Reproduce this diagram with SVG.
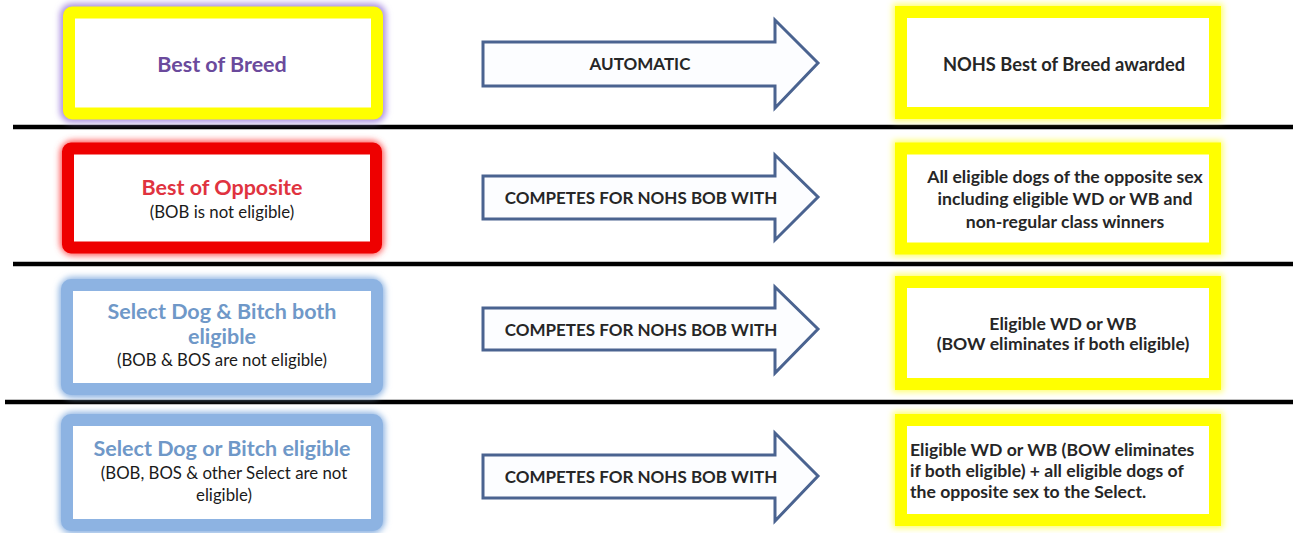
<svg xmlns="http://www.w3.org/2000/svg" width="1295" height="533" viewBox="0 0 1295 533">
<defs>
<filter id="glow" x="-10%" y="-15%" width="120%" height="130%"><feGaussianBlur stdDeviation="3"/></filter>
<style>
text{font-family:Lato,"Open Sans","Liberation Sans",sans-serif;font-weight:700;text-anchor:middle}
.sep{stroke:#000;stroke-width:4.5}
.arrow{fill:#fcfdff;stroke:#4a6390;stroke-width:3;stroke-linejoin:miter}
.box{fill:#fff;stroke-width:12}
.yel{stroke:#ffff00}
.glowy{fill:none;stroke:#ffff66;stroke-width:16}
.big{font-size:21.5px}
.small{font-size:16.8px;fill:#1a1a1a;font-weight:400}
.rs{font-size:17.6px;fill:#262626}
.mid{font-size:18.3px;fill:#262626}
.arrtxt{font-size:17px;fill:#262626}
.start{text-anchor:start}
</style>
</defs>
<rect width="1295" height="533" fill="#fff"/>
<g id="separators">
<line class="sep" x1="13" y1="127" x2="1293" y2="127"/>
<line class="sep" x1="13" y1="264" x2="1293" y2="264"/>
<line class="sep" x1="5" y1="402" x2="1293" y2="402"/>
</g>
<g id="connectors">
<polygon class="arrow" points="483,42 775,42 775,20 818,63 775,108 775,86 483,86"/>
<polygon class="arrow" points="483,176 775,176 775,155 818,197 775,240 775,219 483,219"/>
<polygon class="arrow" points="483,308 775,308 775,287 818,329 775,373 775,350 483,350"/>
<polygon class="arrow" points="483,455 775,455 775,433 818,476 775,521 775,498 483,498"/>
<text class="arrtxt" x="640" y="70">AUTOMATIC</text>
<text class="arrtxt" x="641" y="204">COMPETES FOR NOHS BOB WITH</text>
<text class="arrtxt" x="641" y="336">COMPETES FOR NOHS BOB WITH</text>
<text class="arrtxt" x="641" y="483">COMPETES FOR NOHS BOB WITH</text>
</g>
<g id="best-of-breed">
<rect x="67" y="10.5" width="312" height="105" rx="5" fill="none" stroke="#a98ee0" stroke-width="14" filter="url(#glow)"/>
<rect class="box yel" x="69" y="12.5" width="308" height="101" rx="3"/>
<text class="big" x="222" y="72" fill="#6b4a9c">Best of Breed</text>
</g>
<g id="best-of-opposite">
<rect x="68" y="148.5" width="308" height="99" rx="5" fill="none" stroke="#ff5555" stroke-width="16" filter="url(#glow)"/>
<rect class="box" x="68" y="148.5" width="308" height="99" rx="3" stroke="#ee0000"/>
<text class="big" x="222" y="195" fill="#e0333f">Best of Opposite</text>
<text class="small" x="222" y="218">(BOB is not eligible)</text>
</g>
<g id="select-both">
<rect x="67" y="285" width="310" height="105" rx="6" fill="none" stroke="#8db3e2" stroke-width="16" filter="url(#glow)"/>
<rect class="box" x="67" y="285" width="310" height="104" rx="4" stroke="#8db3e2"/>
<text class="big" x="222" y="319" fill="#6f98c8">Select Dog &amp; Bitch both</text>
<text class="big" x="222" y="344" fill="#6f98c8">eligible</text>
<text class="small" x="222" y="366">(BOB &amp; BOS are not eligible)</text>
</g>
<g id="select-one">
<rect x="67" y="420" width="310" height="106" rx="6" fill="none" stroke="#8db3e2" stroke-width="16" filter="url(#glow)"/>
<rect class="box" x="67" y="420" width="310" height="105" rx="4" stroke="#8db3e2"/>
<text class="big" x="222" y="456" fill="#6f98c8">Select Dog or Bitch eligible</text>
<text class="small" x="224" y="479">(BOB, BOS &amp; other Select are not</text>
<text class="small" x="224" y="501">eligible)</text>
</g>
<g id="nohs-bob-awarded">
<rect class="glowy" x="901" y="12" width="314" height="101" filter="url(#glow)"/>
<rect class="box yel" x="901" y="12" width="314" height="101" stroke-width="13"/>
<text class="mid" x="1064" y="71">NOHS Best of Breed awarded</text>
</g>
<g id="opposite-sex-dogs">
<rect class="glowy" x="901" y="148.5" width="314" height="100" filter="url(#glow)"/>
<rect class="box yel" x="901" y="148.5" width="314" height="100" stroke-width="13"/>
<text class="rs" x="1065" y="183">All eligible dogs of the opposite sex</text>
<text class="rs" x="1065" y="205">including eligible WD or WB and</text>
<text class="rs" x="1065" y="228">non-regular class winners</text>
</g>
<g id="eligible-wd-wb">
<rect class="glowy" x="901" y="282" width="314" height="102" filter="url(#glow)"/>
<rect class="box yel" x="901" y="282" width="314" height="102" stroke-width="13"/>
<text class="rs" x="1063" y="330">Eligible WD or WB</text>
<text class="rs" x="1063" y="350">(BOW eliminates if both eligible)</text>
</g>
<g id="eligible-wd-wb-plus">
<rect class="glowy" x="901" y="420" width="314" height="100" filter="url(#glow)"/>
<rect class="box yel" x="901" y="420" width="314" height="100" stroke-width="13"/>
<text class="rs start" x="910" y="456">Eligible WD or WB (BOW eliminates</text>
<text class="rs start" x="910" y="477">if both eligible) + all eligible dogs of</text>
<text class="rs start" x="910" y="498">the opposite sex to the Select.</text>
</g>
</svg>
